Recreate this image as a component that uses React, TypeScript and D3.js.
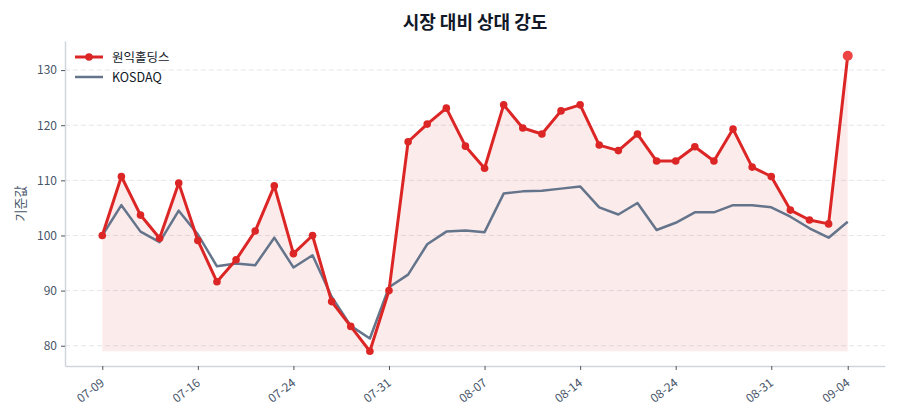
import React, { useEffect, useRef } from 'react';
import * as d3 from 'd3';

const dates = [
  '07-09', '07-10', '07-11', '07-14', '07-15', '07-16', '07-17', '07-18', '07-21', '07-22',
  '07-24', '07-25', '07-28', '07-29', '07-30', '07-31', '08-01', '08-04', '08-05', '08-06',
  '08-07', '08-08', '08-11', '08-12', '08-13', '08-14', '08-18', '08-19', '08-20', '08-21',
  '08-24', '08-25', '08-26', '08-27', '08-28', '08-31', '09-01', '09-02', '09-03', '09-04',
];

const stock = [
  100.0, 110.7, 103.7, 99.5, 109.5, 99.1, 91.6, 95.6, 100.8, 109.0,
  96.7, 100.0, 88.0, 83.5, 79.0, 90.0, 117.0, 120.2, 123.1, 116.2,
  112.2, 123.7, 119.5, 118.4, 122.6, 123.7, 116.4, 115.4, 118.4, 113.5,
  113.5, 116.1, 113.5, 119.3, 112.4, 110.7, 104.6, 102.8, 102.1, 132.6,
];

const kosdaq = [
  100.0, 105.5, 100.7, 98.8, 104.5, 100.2, 94.4, 94.9, 94.6, 99.6,
  94.2, 96.4, 88.9, 83.6, 81.3, 90.6, 92.9, 98.4, 100.7, 100.9,
  100.6, 107.6, 108.0, 108.1, 108.5, 108.9, 105.1, 103.8, 105.9, 101.0,
  102.3, 104.2, 104.2, 105.5, 105.5, 105.1, 103.4, 101.3, 99.6, 102.5,
];

const tickIdx = [0, 5, 10, 15, 20, 25, 30, 35, 39];
const yTicks = [80, 90, 100, 110, 120, 130];

const seriesNames = ['원익홀딩스', 'KOSDAQ'];
const RED = '#dc2626';
const GRAY = '#64748b';
const FONT = "'Noto Sans CJK KR', 'Noto Sans', sans-serif";

const RelativeStrengthChart: React.FC = () => {
  const ref = useRef<SVGSVGElement>(null);

  useEffect(() => {
    if (!ref.current) return;
    const svg = d3.select(ref.current);
    svg.selectAll('*').remove();

    const W = 900, H = 420;
    const margin = { top: 41, right: 15, bottom: 54, left: 65 };
    const width = W - margin.left - margin.right;
    const height = H - margin.top - margin.bottom;

    const n = stock.length;
    const xPad = (n - 1) * 0.05;
    const x = d3.scaleLinear().domain([-xPad, n - 1 + xPad]).range([0, width]);

    const base = d3.min(stock) as number;
    const lo = Math.min(base, d3.min(kosdaq) as number);
    const hi = Math.max(d3.max(stock) as number, d3.max(kosdaq) as number);
    const yPad = (hi - lo) * 0.05;
    const y = d3.scaleLinear().domain([lo - yPad, hi + yPad]).range([height, 0]);

    svg.append('text')
      .attr('x', margin.left + width / 2)
      .attr('y', 29)
      .attr('text-anchor', 'middle')
      .attr('font-family', FONT)
      .attr('font-size', 18)
      .attr('font-weight', 'bold')
      .attr('fill', '#111827')
      .text('시장 대비 상대 강도');

    const g = svg.append('g').attr('transform', `translate(${margin.left},${margin.top})`);

    // grid
    g.selectAll('line.grid')
      .data(yTicks)
      .join('line')
      .attr('class', 'grid')
      .attr('x1', 0)
      .attr('x2', width)
      .attr('y1', d => y(d))
      .attr('y2', d => y(d))
      .attr('stroke', '#e5e7eb')
      .attr('stroke-width', 1)
      .attr('stroke-dasharray', '5,3');

    // fill under stock line
    const area = d3.area<number>()
      .x((_, i) => x(i))
      .y0(y(base))
      .y1(d => y(d));
    g.append('path')
      .datum(stock)
      .attr('d', area)
      .attr('fill', RED)
      .attr('fill-opacity', 0.09);

    const line = d3.line<number>().x((_, i) => x(i)).y(d => y(d));

    g.append('path')
      .datum(kosdaq)
      .attr('d', line)
      .attr('fill', 'none')
      .attr('stroke', GRAY)
      .attr('stroke-width', 2.5)
      .attr('stroke-linejoin', 'round');

    g.append('path')
      .datum(stock)
      .attr('d', line)
      .attr('fill', 'none')
      .attr('stroke', RED)
      .attr('stroke-width', 3)
      .attr('stroke-linejoin', 'round');

    g.selectAll('circle.pt')
      .data(stock.slice(0, n - 1))
      .join('circle')
      .attr('class', 'pt')
      .attr('cx', (_, i) => x(i))
      .attr('cy', d => y(d))
      .attr('r', 3.8)
      .attr('fill', RED);

    g.append('circle')
      .attr('cx', x(n - 1))
      .attr('cy', y(stock[n - 1]))
      .attr('r', 5)
      .attr('fill', '#ef4444');

    // axes
    const xAxis = g.append('g')
      .attr('transform', `translate(0,${height})`)
      .call(d3.axisBottom(x).tickValues(tickIdx).tickFormat(d => dates[d as number]).tickSize(4).tickSizeOuter(0));
    xAxis.select('.domain').attr('stroke', '#d1d5db').attr('stroke-width', 1.5);
    xAxis.selectAll('.tick line').attr('stroke', '#4b5563');
    xAxis.selectAll('.tick text')
      .attr('font-family', FONT)
      .attr('font-size', 12)
      .attr('fill', '#475569')
      .attr('x', 0)
      .attr('y', 0)
      .attr('dy', '0.35em')
      .attr('text-anchor', 'end')
      .attr('transform', 'translate(0,15) rotate(-38)');

    const yAxis = g.append('g')
      .call(d3.axisLeft(y).tickValues(yTicks).tickSize(4).tickSizeOuter(0).tickPadding(4));
    yAxis.select('.domain').attr('stroke', '#d1d5db').attr('stroke-width', 1.5);
    yAxis.selectAll('.tick line').attr('stroke', '#4b5563');
    yAxis.selectAll('.tick text')
      .attr('font-family', FONT)
      .attr('font-size', 12)
      .attr('fill', '#475569');

    svg.append('text')
      .attr('transform', `translate(25,${margin.top + height / 2}) rotate(-90)`)
      .attr('text-anchor', 'middle')
      .attr('font-family', FONT)
      .attr('font-size', 13)
      .attr('fill', '#475569')
      .text('기준값');

    // legend
    const legend = svg.append('g').attr('transform', 'translate(75,57)');
    seriesNames.forEach((name, i) => {
      const row = legend.append('g').attr('transform', `translate(0,${i * 20})`);
      row.append('line')
        .attr('x1', 0).attr('x2', 28).attr('y1', 0).attr('y2', 0)
        .attr('stroke', i === 0 ? RED : GRAY)
        .attr('stroke-width', i === 0 ? 3 : 2.5);
      if (i === 0) row.append('circle').attr('cx', 14).attr('cy', 0).attr('r', 3.8).attr('fill', RED);
      row.append('text')
        .attr('x', 37)
        .attr('y', 4.5)
        .attr('font-family', FONT)
        .attr('font-size', 12.5)
        .attr('fill', '#111827')
        .text(name);
    });
  }, []);

  return <svg ref={ref} width={900} height={420} style={{ display: 'block' }} />;
};

export default function App() {
  return (
    <div style={{ margin: -8 }}>
      <RelativeStrengthChart />
    </div>
  );
}
